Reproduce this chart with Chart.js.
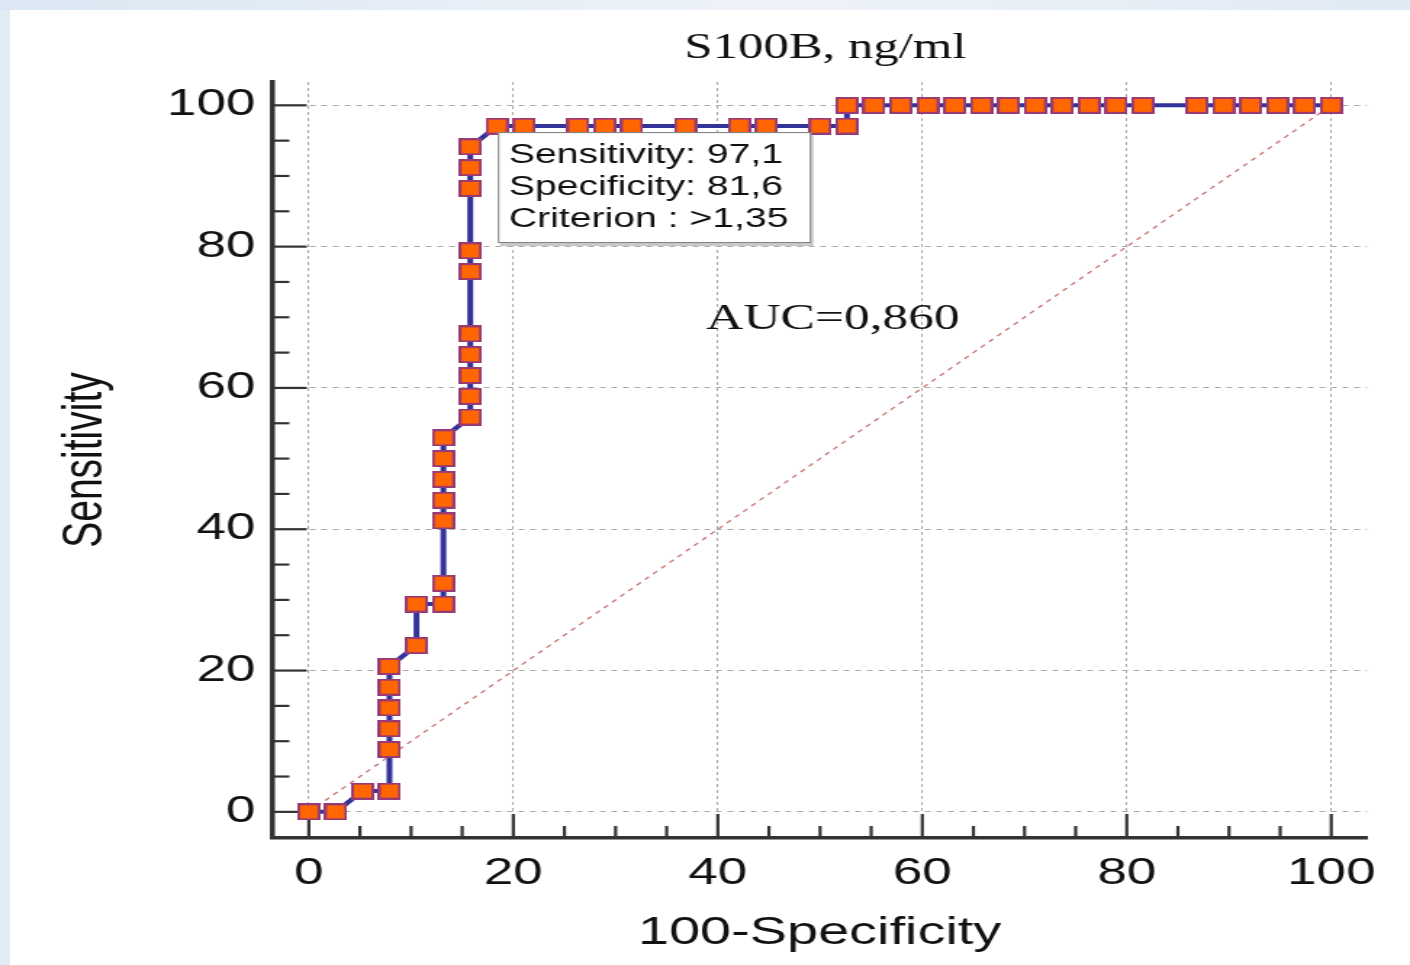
<!DOCTYPE html>
<html>
<head>
<meta charset="utf-8">
<script src="https://cdn.jsdelivr.net/npm/chart.js@4.4.1/dist/chart.umd.min.js"></script>
<style>
html,body{margin:0;padding:0;width:1410px;height:965px;overflow:hidden;background:#e1ebf5;}
#band{position:absolute;left:0;top:0;width:1410px;height:10px;background:linear-gradient(to right,#dbe7f3,#eef3f9 55%,#e0eaf4);}
#sheet{position:absolute;left:10px;top:10px;width:1400px;height:955px;background:#ffffff;}
#c{position:absolute;left:0;top:0;}
</style>
</head>
<body>
<div id="band"></div>
<div id="sheet"></div>
<canvas id="c" width="972" height="965" style="width:1410px;height:965px"></canvas>
<script>
// ---- data ----
const chartTitle = 'S100B, ng/ml';
const xAxisTitle = '100-Specificity';
const yAxisTitle = 'Sensitivity';
const aucLabel = 'AUC=0,860';
const infoLines = ['Sensitivity: 97,1', 'Specificity: 81,6', 'Criterion : >1,35'];
const criterionPoint = [18.42, 97.06];
const aucPosition = [39.0, 68.5];

const fprValues = [
  0, 2.63, 5.26,
  7.89, 7.89, 7.89, 7.89, 7.89, 7.89,
  10.53, 10.53,
  13.16, 13.16, 13.16, 13.16, 13.16, 13.16, 13.16,
  15.79, 15.79, 15.79, 15.79, 15.79, 15.79, 15.79, 15.79, 15.79, 15.79,
  18.42, 21.05, 26.32, 28.95, 31.58, 36.84, 42.11, 44.74, 50.00, 52.63,
  52.63, 55.26, 57.89, 60.53, 63.16, 65.79, 68.42, 71.05, 73.68, 76.32, 78.95, 81.58,
  86.84, 89.47, 92.11, 94.74, 97.37, 100
];
const sensValues = [
  0, 0, 2.94,
  2.94, 8.82, 11.76, 14.71, 17.65, 20.59,
  23.53, 29.41,
  29.41, 32.35, 41.18, 44.12, 47.06, 50.00, 52.94,
  55.88, 58.82, 61.76, 64.71, 67.65, 76.47, 79.41, 88.24, 91.18, 94.12,
  97.06, 97.06, 97.06, 97.06, 97.06, 97.06, 97.06, 97.06, 97.06, 97.06,
  100, 100, 100, 100, 100, 100, 100, 100, 100, 100, 100, 100,
  100, 100, 100, 100, 100, 100
];
const diagX = [0, 100];
const diagY = [0, 100];
const majorStep = 20;
const minorStep = 5;

// ---- marker image ----
const marker = document.createElement('canvas');
marker.width = 16; marker.height = 17;
(function(){
  const m = marker.getContext('2d');
  m.fillStyle = '#ff6600';
  m.fillRect(1, 1, 14, 15);
  m.strokeStyle = '#9a3a74';
  m.lineWidth = 2;
  m.strokeRect(1, 1, 14, 15);
})();

const SANS = '"Liberation Sans", Arial, sans-serif';
const SERIF = '"Liberation Serif", "Times New Roman", serif';

const overlay = {
  id: 'overlay',
  beforeDatasetsDraw(chart) {
    const ctx = chart.ctx, xs = chart.scales.x, ys = chart.scales.y;
    ctx.save();
    ctx.strokeStyle = '#333';
    ctx.lineWidth = 2.2;
    for (let v = 0; v <= 100; v += minorStep) {
      const major = v % majorStep === 0;
      const len = major ? 24 : 12;
      const px = xs.getPixelForValue(v);
      ctx.beginPath(); ctx.moveTo(px, ys.bottom); ctx.lineTo(px, ys.bottom - len); ctx.stroke();
      const py = ys.getPixelForValue(v);
      ctx.beginPath(); ctx.moveTo(xs.left, py); ctx.lineTo(xs.left + len, py); ctx.stroke();
    }
    ctx.restore();
  },
  afterDatasetsDraw(chart) {
    const ctx = chart.ctx, xs = chart.scales.x, ys = chart.scales.y;
    // info box
    const bx = xs.getPixelForValue(criterionPoint[0]) + 0.5;
    const by = ys.getPixelForValue(criterionPoint[1]) + 6;
    const bw = 216, bh = 111;
    ctx.save();
    ctx.fillStyle = '#c8c8c8';
    ctx.fillRect(bx + 1.5, by + 3, bw, bh);
    ctx.fillStyle = '#ffffff';
    ctx.fillRect(bx, by, bw, bh);
    ctx.strokeStyle = '#7a7a7a';
    ctx.lineWidth = 1;
    ctx.strokeRect(bx + 0.5, by + 0.5, bw - 1, bh - 1);
    ctx.fillStyle = '#111';
    ctx.font = '27px ' + SANS;
    ctx.textAlign = 'left';
    ctx.textBaseline = 'alphabetic';
    infoLines.forEach((t, i) => ctx.fillText(t, bx + 7.5, by + 31 + i * 32));
    // AUC
    ctx.font = '35.5px ' + SERIF;
    ctx.fillText(aucLabel, xs.getPixelForValue(aucPosition[0]) - 1, ys.getPixelForValue(aucPosition[1]) + 1);
    ctx.restore();
  },
  afterDraw(chart) {
    const ctx = chart.ctx, ca = chart.chartArea;
    ctx.save();
    ctx.fillStyle = '#111';
    ctx.font = '35px ' + SERIF;
    ctx.textAlign = 'center';
    ctx.textBaseline = 'alphabetic';
    ctx.fillText(chartTitle, (ca.left + ca.right) / 2 + 4, 58);
    ctx.restore();
  }
};

new Chart(document.getElementById('c'), {
  type: 'scatter',
  data: {
    datasets: [
      {
        label: 'ROC',
        data: fprValues.map((x, i) => ({x: x, y: sensValues[i]})),
        showLine: true,
        borderColor: '#333399',
        borderWidth: 4,
        tension: 0,
        pointStyle: marker,
        pointRadius: 8,
        pointHoverRadius: 8,
        order: 0
      },
      {
        label: 'Reference',
        data: diagX.map((x, i) => ({x: x, y: diagY[i]})),
        showLine: true,
        borderColor: '#c87474',
        borderWidth: 1.3,
        borderDash: [4, 4],
        pointRadius: 0,
        order: 1
      }
    ]
  },
  options: {
    responsive: false,
    animation: false,
    devicePixelRatio: 1,
    events: [],
    layout: {padding: {left: 0, top: 82, right: 29.6, bottom: 0}},
    plugins: {legend: {display: false}, tooltip: {enabled: false}, title: {display: false}},
    scales: {
      x: {
        type: 'linear', position: 'bottom', min: -3.6, max: 103.5,
        ticks: {stepSize: majorStep, includeBounds: false, padding: 14, color: '#111',
                font: {family: SANS, size: 36.5}, maxRotation: 0, autoSkip: false},
        grid: {color: '#a8a8a8', lineWidth: 1, drawTicks: false},
        border: {display: true, color: '#333', width: 3.5, dash: [3, 3]},
        title: {display: true, text: xAxisTitle, color: '#111',
                font: {family: SANS, size: 38.5}, padding: {top: 0, bottom: 9}},
        afterFit(s) { s.height = 127; }
      },
      y: {
        type: 'linear', position: 'left', min: -3.7, max: 103.3,
        ticks: {stepSize: majorStep, includeBounds: false, padding: 11.5, color: '#111',
                font: {family: SANS, size: 36.5}},
        grid: {color: '#a8a8a8', lineWidth: 1, drawTicks: false},
        border: {display: true, color: '#333', width: 3.5, dash: [4, 4]},
        title: {display: true, text: yAxisTitle, color: '#111',
                font: {family: SANS, size: 39}, padding: {top: 36, bottom: 0}},
        afterFit(s) { s.width = 187.5; }
      }
    }
  },
  plugins: [overlay]
});
</script>
</body>
</html>
